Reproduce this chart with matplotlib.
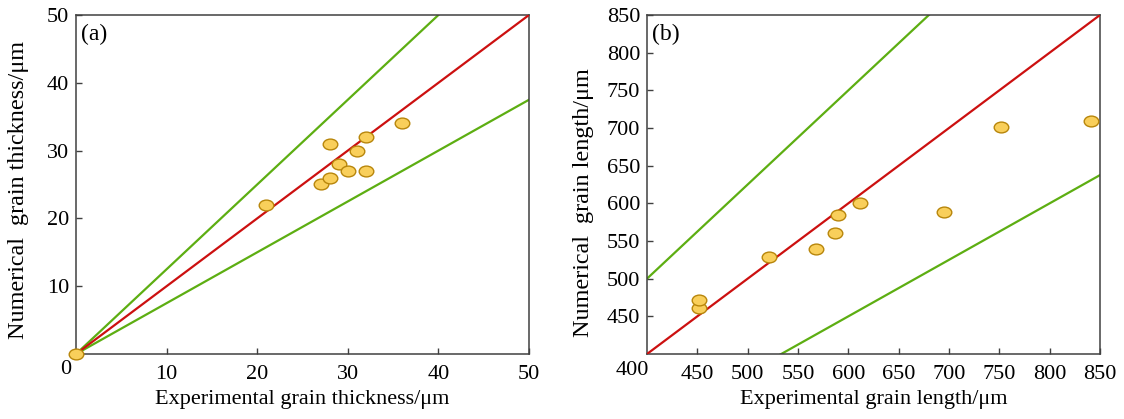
import numpy as np
import matplotlib
matplotlib.use("Agg")
import matplotlib.pyplot as plt
from matplotlib.path import Path
from matplotlib.transforms import Affine2D

plt.rcParams['font.family'] = ['Liberation Serif', 'DejaVu Serif']
plt.rcParams['mathtext.fontset'] = 'stix'

# Panel (a) data: grain thickness (um)
thick_exp = [0, 21, 27, 28, 28, 29, 30, 31, 32, 32, 36]
thick_num = [0, 22, 25, 26, 31, 28, 27, 30, 32, 27, 34]
thick_xticks = [10, 20, 30, 40, 50]
thick_yticks = [10, 20, 30, 40, 50]

# Panel (b) data: grain length (um)
len_exp = [451.5, 451.5, 521, 568, 587, 590, 612, 695, 752, 841]
len_num = [461, 472, 529, 539, 560, 584, 600, 588, 701, 709]
len_xticks = [450, 500, 550, 600, 650, 700, 750, 800, 850]
len_yticks = [450, 500, 550, 600, 650, 700, 750, 800, 850]

# reference lines: y = k * x
ratio_exact = 1.0
ratio_upper = 1.25
ratio_lower = 0.75

RED = '#CC1010'
GREEN = '#5DAE12'
FILL = '#F9CF5B'
EDGE = '#B8860B'
SPINE = '#404040'

TICK_FS = 16
LABEL_FS = 16
YLABEL_FS = 17.4

ell = Path.unit_circle().transformed(Affine2D().scale(1.35, 1.0))

fig = plt.figure(figsize=(11.24, 4.19), dpi=100)
axa = fig.add_axes([76/1124, 1-354/419, 453/1124, 339/419])
axb = fig.add_axes([647/1124, 1-354/419, 453/1124, 339/419])

def style(ax):
    for s in ax.spines.values():
        s.set_color(SPINE)
        s.set_linewidth(1.1)
    ax.tick_params(direction='in', length=4, width=1.0, color=SPINE,
                   labelsize=TICK_FS, top=False, right=False)
    ax.tick_params(axis='x', pad=8)
    ax.tick_params(axis='y', pad=5)

# Panel (a)
xs = np.array([0.5, 50])
axa.plot(xs, ratio_upper * xs, color=GREEN, lw=1.6, zorder=2)
axa.plot(xs, ratio_lower * xs, color=GREEN, lw=1.6, zorder=2)
axa.plot(xs, ratio_exact * xs, color=RED, lw=1.6, zorder=3)
axa.plot(thick_exp, thick_num, linestyle='none', marker=ell, ms=10.5,
         mfc=FILL, mec=EDGE, mew=1.0, clip_on=False, zorder=4)
axa.set_xlim(0, 50)
axa.set_ylim(0, 50)
axa.set_xticks(thick_xticks)
axa.set_yticks(thick_yticks)
style(axa)
axa.text(-0.022, -0.045, '0', transform=axa.transAxes, ha='center', va='center', fontsize=TICK_FS)
axa.text(0.012, 0.975, '(a)', transform=axa.transAxes, ha='left', va='top', fontsize=17)
axa.set_xlabel('Experimental grain thickness/μm', fontsize=LABEL_FS)
axa.set_ylabel('Numerical  grain thickness/μm', fontsize=YLABEL_FS)
axa.yaxis.set_label_coords(-0.104, 0.484)
axa.xaxis.set_label_coords(0.5, -0.105)

# Panel (b)
xs = np.array([400, 850])
axb.plot(xs, ratio_upper * xs, color=GREEN, lw=1.6, zorder=2)
axb.plot(xs, ratio_lower * xs, color=GREEN, lw=1.6, zorder=2)
axb.plot(xs, ratio_exact * xs, color=RED, lw=1.6, zorder=3)
axb.plot(len_exp, len_num, linestyle='none', marker=ell, ms=10.5,
         mfc=FILL, mec=EDGE, mew=1.0, zorder=4)
axb.set_xlim(400, 850)
axb.set_ylim(400, 850)
axb.set_xticks(len_xticks)
axb.set_yticks(len_yticks)
style(axb)
axb.text(-0.033, -0.05, '400', transform=axb.transAxes, ha='center', va='center', fontsize=TICK_FS)
axb.text(0.012, 0.975, '(b)', transform=axb.transAxes, ha='left', va='top', fontsize=17)
axb.set_xlabel('Experimental grain length/μm', fontsize=LABEL_FS)
axb.set_ylabel('Numerical  grain length/μm', fontsize=YLABEL_FS)
axb.yaxis.set_label_coords(-0.117, 0.448)
axb.xaxis.set_label_coords(0.5, -0.105)

fig.savefig('out.png', dpi=100)
